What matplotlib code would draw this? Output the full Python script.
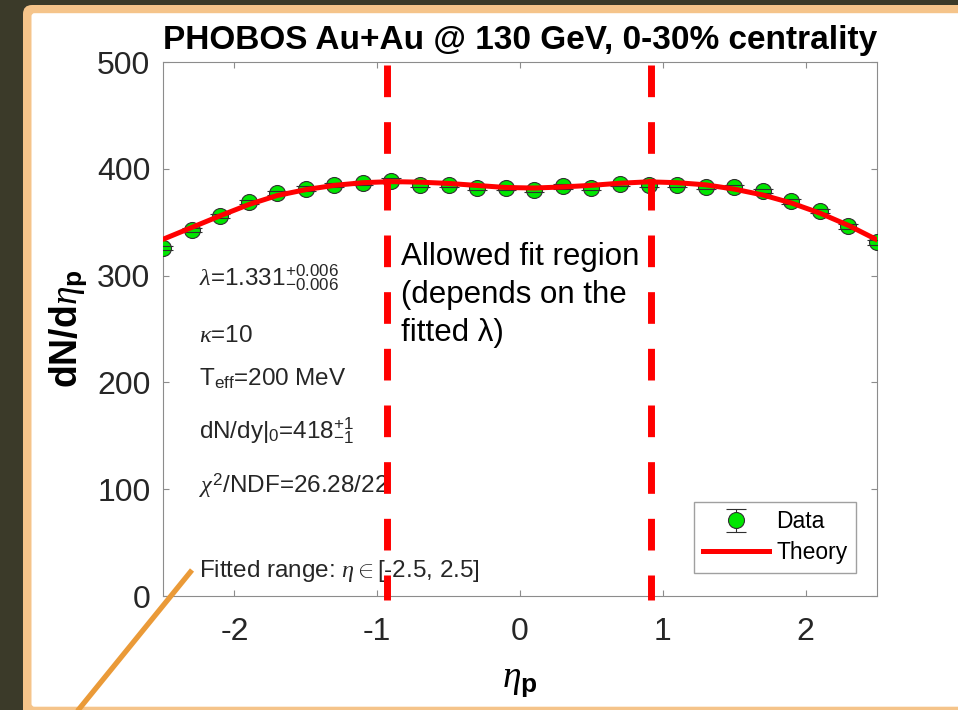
import matplotlib
matplotlib.use("Agg")
import matplotlib.pyplot as plt
from matplotlib.patches import FancyBboxPatch
from matplotlib.transforms import IdentityTransform

plt.rcParams['font.family'] = ['Liberation Sans', 'DejaVu Sans']
plt.rcParams['mathtext.fontset'] = 'custom'
plt.rcParams['mathtext.rm'] = 'Liberation Sans'
plt.rcParams['mathtext.it'] = 'Liberation Serif:italic'
plt.rcParams['mathtext.bf'] = 'Liberation Sans:bold'
plt.rcParams['axes.unicode_minus'] = False
plt.rcParams['lines.scale_dashes'] = False

# PHOBOS Au+Au 130 GeV, 0-30% centrality
eta = [-2.5, -2.3, -2.1, -1.9, -1.7, -1.5, -1.3, -1.1, -0.9, -0.7, -0.5, -0.3, -0.1,
       0.1, 0.3, 0.5, 0.7, 0.9, 1.1, 1.3, 1.5, 1.7, 1.9, 2.1, 2.3, 2.5]
dndeta = [326, 342.5, 355.5, 369, 377.5, 381.5, 385, 386.5, 389, 384.5, 385, 382, 382,
          380, 383.5, 382, 386, 385, 384.5, 383, 383, 379, 369.5, 360.5, 346, 331]
dndeta_err = [2, 2, 2, 2, 2, 2, 2, 2, 2, 2, 2, 2, 2,
              2, 2, 2, 2, 2, 2, 2, 2, 2, 2, 2, 2, 2]
theory = [334, 345, 356, 366.5, 375, 380.5, 384.5, 387, 388, 387.5, 386.3, 384.4, 382.5,
          382, 383, 384.5, 386.5, 387.8, 387, 385, 381, 375.5, 368, 358.5, 347, 333.5]

# allowed fit region edges (depend on fitted lambda)
fit_lo, fit_hi = -0.93, 0.92

fig = plt.figure(figsize=(9.58, 7.10), dpi=100)
fig.patch.set_facecolor('#3b3a29')

# slide panel behind the plot
outer = FancyBboxPatch((23, -20), 1000, 725, boxstyle="round,pad=0,rounding_size=9",
                       transform=IdentityTransform(), facecolor='#f5c48a', edgecolor='none', zorder=-20)
inner = FancyBboxPatch((31.5, 3.3), 1000, 693.5, boxstyle="round,pad=0,rounding_size=3",
                       transform=IdentityTransform(), facecolor='white', edgecolor='none', zorder=-19)
fig.add_artist(outer)
fig.add_artist(inner)

ax = fig.add_axes([163 / 958, 1 - 596 / 710, 714 / 958, 534 / 710])

eb = ax.errorbar(eta, dndeta, yerr=dndeta_err, fmt='o', ms=11.5, mfc='#00e600', mec='#303030',
                 mew=0.8, ecolor='#303030', elinewidth=0.8, capsize=7, capthick=0.8,
                 label='Data', zorder=3)
for cap in eb[1]:
    cap.set_zorder(4)
th, = ax.plot(eta, theory, color='red', lw=3.6, label='Theory', zorder=5)

ax.set_xlim(-2.5, 2.5)
ax.set_ylim(0, 500)
ax.set_xticks([-2, -1, 0, 1, 2])
ax.set_yticks([0, 100, 200, 300, 400, 500])
for s in ax.spines.values():
    s.set_color('#8c8c8c')
    s.set_linewidth(0.8)
ax.tick_params(direction='in', top=True, right=True, length=4, width=0.8, color='#8c8c8c',
               labelcolor='#262626', labelsize=23)
ax.tick_params(axis='x', pad=15)
ax.tick_params(axis='y', pad=9)

ax.set_title('PHOBOS Au+Au @ 130 GeV, 0-30% centrality', fontsize=24, fontweight='bold', pad=9)
ax.set_ylabel(r'$\mathbf{dN/d}\eta_\mathbf{p}$', fontsize=27)
ax.yaxis.set_label_coords(-0.104, 0.5)
ax.set_xlabel(r'$\eta_\mathbf{p}$', fontsize=27)
ax.xaxis.set_label_coords(0.5, -0.125)

# fit results
txt = dict(fontsize=17.5, color='#262626', va='baseline', ha='left')
ax.text(-2.25, 290, r'$\lambda$=1.331$^{+0.006}_{-0.006}$', **txt)
ax.text(-2.25, 238, r'$\kappa$=10', **txt)
ax.text(-2.25, 197, r'T$_\mathrm{eff}$=200 MeV', **txt)
ax.text(-2.25, 147, r'dN/dy|$_0$=418$^{+1}_{-1}$', **txt)
ax.text(-2.25, 97, r'$\chi^2$/NDF=26.28/22', **txt)
ax.text(-2.25, 18, r'Fitted range: $\eta\in$[-2.5, 2.5]', **txt)

ax.legend(handles=[eb, th], loc='lower right', bbox_to_anchor=(0.9706, 0.043), fontsize=16.5,
          frameon=True, fancybox=False, edgecolor='#a0a0a0', framealpha=1,
          handlelength=2.9, handletextpad=0.3, labelspacing=0.35, borderpad=0.38,
          borderaxespad=0)

# allowed fit region markers
xt = ax.get_xaxis_transform()
for xb in (fit_lo, fit_hi):
    ax.plot([xb, xb], [0.994, -0.007], transform=xt, color='#ff0000', lw=5,
            linestyle=(0, (22.8, 18)), clip_on=False, zorder=6)
ax.text(-0.83, 239, 'Allowed fit region\n(depends on the\nfitted λ)', fontsize=22.5,
        color='black', va='baseline', ha='left', linespacing=1.34, zorder=7)

# pointer line
fig.add_artist(plt.Line2D([192 / 958, 75 / 958], [1 - 570 / 710, 1 - 714 / 710],
                          transform=fig.transFigure, color='#ea9a38', lw=3.8,
                          solid_capstyle='butt', zorder=8))

fig.savefig('out.png', dpi=100, facecolor=fig.get_facecolor())
